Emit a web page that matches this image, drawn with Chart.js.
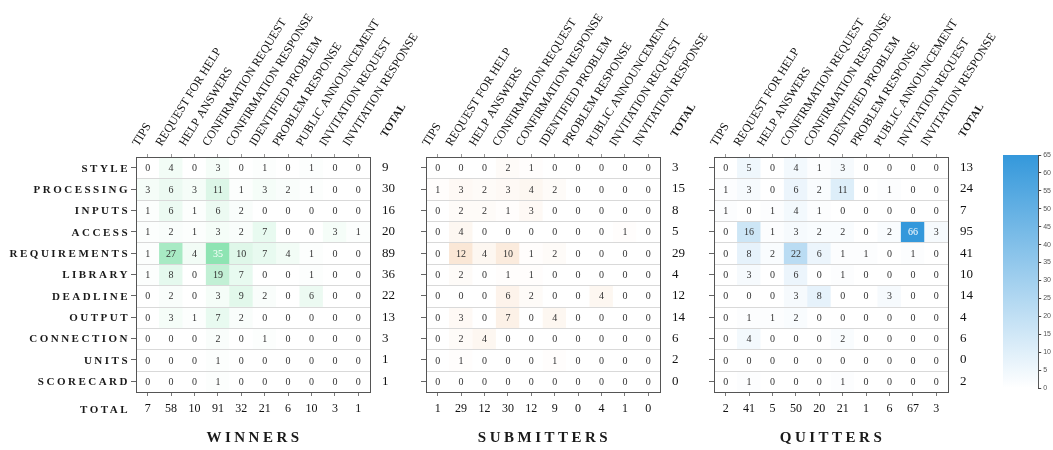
<!DOCTYPE html>
<html>
<head>
<meta charset="utf-8">
<script src="https://cdn.jsdelivr.net/npm/chart.js@4.4.0/dist/chart.umd.min.js"></script>
<style>
  html, body { margin: 0; padding: 0; background: #fff; }
  #wrap { position: relative; width: 1053px; height: 450px; overflow: hidden; }
  canvas { position: absolute; top: 0; }
</style>
</head>
<body>
<div id="wrap">
  <canvas id="winners" width="445" height="450" style="left:0px"></canvas>
  <canvas id="submitters" width="340" height="450" style="left:395px"></canvas>
  <canvas id="quitters" width="363" height="450" style="left:690px"></canvas>
  <canvas id="colorbar" width="58" height="450" style="left:995px"></canvas>
</div>
<script>
const rowLabels = ['STYLE', 'PROCESSING', 'INPUTS', 'ACCESS', 'REQUIREMENTS', 'LIBRARY',
  'DEADLINE', 'OUTPUT', 'CONNECTION', 'UNITS', 'SCORECARD'];
const colLabels = ['TIPS', 'REQUEST FOR HELP', 'HELP ANSWERS', 'CONFIRMATION REQUEST',
  'CONFIRMATION RESPONSE', 'IDENTIFIED PROBLEM', 'PROBLEM RESPONSE', 'PUBLIC ANNOUNCEMENT',
  'INVITATION REQUEST', 'INVITATION RESPONSE'];

const winners = [
  [0, 4, 0, 3, 0, 1, 0, 1, 0, 0],
  [3, 6, 3, 11, 1, 3, 2, 1, 0, 0],
  [1, 6, 1, 6, 2, 0, 0, 0, 0, 0],
  [1, 2, 1, 3, 2, 7, 0, 0, 3, 1],
  [1, 27, 4, 35, 10, 7, 4, 1, 0, 0],
  [1, 8, 0, 19, 7, 0, 0, 1, 0, 0],
  [0, 2, 0, 3, 9, 2, 0, 6, 0, 0],
  [0, 3, 1, 7, 2, 0, 0, 0, 0, 0],
  [0, 0, 0, 2, 0, 1, 0, 0, 0, 0],
  [0, 0, 0, 1, 0, 0, 0, 0, 0, 0],
  [0, 0, 0, 1, 0, 0, 0, 0, 0, 0]
];
const winnersRowTotals = [9, 30, 16, 20, 89, 36, 22, 13, 3, 1, 1];
const winnersColTotals = [7, 58, 10, 91, 32, 21, 6, 10, 3, 1];

const submitters = [
  [0, 0, 0, 2, 1, 0, 0, 0, 0, 0],
  [1, 3, 2, 3, 4, 2, 0, 0, 0, 0],
  [0, 2, 2, 1, 3, 0, 0, 0, 0, 0],
  [0, 4, 0, 0, 0, 0, 0, 0, 1, 0],
  [0, 12, 4, 10, 1, 2, 0, 0, 0, 0],
  [0, 2, 0, 1, 1, 0, 0, 0, 0, 0],
  [0, 0, 0, 6, 2, 0, 0, 4, 0, 0],
  [0, 3, 0, 7, 0, 4, 0, 0, 0, 0],
  [0, 2, 4, 0, 0, 0, 0, 0, 0, 0],
  [0, 1, 0, 0, 0, 1, 0, 0, 0, 0],
  [0, 0, 0, 0, 0, 0, 0, 0, 0, 0]
];
const submittersRowTotals = [3, 15, 8, 5, 29, 4, 12, 14, 6, 2, 0];
const submittersColTotals = [1, 29, 12, 30, 12, 9, 0, 4, 1, 0];

const quitters = [
  [0, 5, 0, 4, 1, 3, 0, 0, 0, 0],
  [1, 3, 0, 6, 2, 11, 0, 1, 0, 0],
  [1, 0, 1, 4, 1, 0, 0, 0, 0, 0],
  [0, 16, 1, 3, 2, 2, 0, 2, 66, 3],
  [0, 8, 2, 22, 6, 1, 1, 0, 1, 0],
  [0, 3, 0, 6, 0, 1, 0, 0, 0, 0],
  [0, 0, 0, 3, 8, 0, 0, 3, 0, 0],
  [0, 1, 1, 2, 0, 0, 0, 0, 0, 0],
  [0, 4, 0, 0, 0, 2, 0, 0, 0, 0],
  [0, 0, 0, 0, 0, 0, 0, 0, 0, 0],
  [0, 1, 0, 0, 0, 1, 0, 0, 0, 0]
];
const quittersRowTotals = [13, 24, 7, 95, 41, 10, 14, 4, 6, 0, 2];
const quittersColTotals = [2, 41, 5, 50, 20, 21, 1, 6, 67, 3];

const colorbarRange = [0, 65];
const colorMax = 65;

const serif = '"Liberation Serif", "Times New Roman", serif';
const headerAngle = 58;

function shade(hex, v) {
  const t = Math.min(1, v / colorMax);
  const n = parseInt(hex.slice(1), 16);
  const r = (n >> 16) & 255, g = (n >> 8) & 255, b = n & 255;
  const m = c => Math.round(255 + (c - 255) * t);
  return `rgb(${m(r)},${m(g)},${m(b)})`;
}

const heatPlugin = {
  id: 'heat',
  afterDatasetsDraw(chart) {
    const ctx = chart.ctx, a = chart.chartArea, ys = chart.scales.y;
    ctx.save();
    // row separators
    ctx.strokeStyle = '#d9d9d9';
    ctx.lineWidth = 1;
    for (let i = 1; i < rowLabels.length; i++) {
      const y = Math.round(ys.getPixelForValue(i)) + 0.5;
      ctx.beginPath(); ctx.moveTo(a.left, y); ctx.lineTo(a.right, y); ctx.stroke();
    }
    // cell values
    ctx.font = '10px ' + serif;
    ctx.textAlign = 'center';
    ctx.textBaseline = 'middle';
    chart.data.datasets.forEach((ds, i) => {
      chart.getDatasetMeta(i).data.forEach((bar, j) => {
        const v = ds.values[j];
        ctx.fillStyle = v > 30 ? '#fff' : '#333';
        ctx.fillText(String(v), bar.x, (bar.y + bar.base) / 2 + 1);
      });
    });
    // frame
    ctx.strokeStyle = '#555';
    ctx.strokeRect(Math.round(a.left) + 0.5, Math.round(a.top) + 0.5,
      Math.round(a.right - a.left), Math.round(a.bottom - a.top));
    ctx.restore();
  },
  afterDraw(chart, args, opts) {
    const ctx = chart.ctx, a = chart.chartArea, ys = chart.scales.y;
    ctx.save();
    ctx.fillStyle = '#1a1a1a';
    // row labels + bottom TOTAL
    if (opts.rowLabels) {
      ctx.font = 'bold 11px ' + serif;
      ctx.letterSpacing = '2.5px';
      ctx.textAlign = 'right';
      ctx.textBaseline = 'middle';
      rowLabels.forEach((lab, i) => {
        ctx.fillText(lab, a.left - 6, ys.getPixelForValue(i + 0.5) + 1);
      });
      ctx.fillText('TOTAL', a.left - 6, a.bottom + 18);
    }
    // rotated TOTAL header
    ctx.save();
    ctx.letterSpacing = '0px';
    ctx.translate(a.right + 16, a.top - 19);
    ctx.rotate(-headerAngle * Math.PI / 180);
    ctx.font = 'bold 11px ' + serif;
    ctx.textAlign = 'left';
    ctx.textBaseline = 'alphabetic';
    ctx.fillText('TOTAL', 0, 0);
    ctx.restore();
    // panel title
    ctx.font = 'bold 15px ' + serif;
    ctx.letterSpacing = '3.5px';
    ctx.textAlign = 'center';
    ctx.textBaseline = 'middle';
    ctx.fillText(opts.title, (a.left + a.right) / 2 + 1.5, 438);
    ctx.restore();
  }
};

function makeHeatmap(id, matrix, rowTotals, colTotals, hue, title, showRowLabels, leftW, rightW) {
  const datasets = matrix.map((row, i) => ({
    label: rowLabels[i],
    data: row.map(() => [i, i + 1]),
    values: row,
    backgroundColor: row.map(v => shade(hue, v)),
    borderWidth: 0,
    grouped: false,
    barPercentage: 1,
    categoryPercentage: 1,
    xAxisID: 'x',
    yAxisID: 'y'
  }));
  const rowTicks = axis => { axis.ticks = rowLabels.map((_, i) => ({ value: i + 0.5 })); };
  const noPadX = s => { s.paddingLeft = 0; s.paddingRight = 0; };
  const noPadY = s => { s.paddingTop = 0; s.paddingBottom = 0; };
  new Chart(document.getElementById(id), {
    type: 'bar',
    data: { labels: colLabels, datasets },
    options: {
      responsive: false,
      animation: false,
      events: [],
      layout: { padding: 0 },
      plugins: {
        legend: { display: false },
        tooltip: { enabled: false },
        heat: { title, rowLabels: showRowLabels }
      },
      scales: {
        x: {
          type: 'category',
          position: 'top',
          offset: true,
          grid: { offset: false, drawOnChartArea: false, tickLength: 3, color: '#999' },
          border: { display: false },
          ticks: {
            autoSkip: false, minRotation: headerAngle, maxRotation: headerAngle, padding: 5,
            color: '#111', font: { family: serif, size: 12 }
          },
          afterFit: s => { s.height = 157; noPadX(s); }
        },
        x2: {
          type: 'category',
          position: 'bottom',
          labels: colTotals.map(String),
          offset: true,
          grid: { offset: false, drawOnChartArea: false, tickLength: 4, color: '#777' },
          border: { display: false },
          ticks: {
            autoSkip: false, maxRotation: 0, padding: 6,
            color: '#111', font: { family: serif, size: 12 }
          },
          afterFit: s => { s.height = 58; noPadX(s); }
        },
        y: {
          type: 'linear',
          position: 'left',
          min: 0, max: rowLabels.length, reverse: true,
          afterBuildTicks: rowTicks,
          grid: { drawOnChartArea: false, tickLength: 5, color: '#666' },
          border: { display: false },
          ticks: { display: false },
          afterFit: s => { s.width = leftW; noPadY(s); }
        },
        yr: {
          type: 'linear',
          position: 'right',
          min: 0, max: rowLabels.length, reverse: true,
          afterBuildTicks: rowTicks,
          grid: { display: false, drawTicks: false },
          border: { display: false },
          ticks: {
            padding: 12, color: '#111', font: { family: serif, size: 13 },
            callback: (v, i) => String(rowTotals[i])
          },
          afterFit: s => { s.width = rightW; noPadY(s); }
        }
      }
    },
    plugins: [heatPlugin]
  });
}

makeHeatmap('winners', winners, winnersRowTotals, winnersColTotals, '#2ecc71', 'WINNERS', true, 136, 75);
makeHeatmap('submitters', submitters, submittersRowTotals, submittersColTotals, '#e67e22', 'SUBMITTERS', false, 31, 75);
makeHeatmap('quitters', quitters, quittersRowTotals, quittersColTotals, '#3498db', 'QUITTERS', false, 24, 105);

new Chart(document.getElementById('colorbar'), {
  type: 'bar',
  data: {
    labels: [''],
    datasets: [{
      data: [colorbarRange],
      borderWidth: 0,
      barPercentage: 1,
      categoryPercentage: 1,
      backgroundColor: c => {
        const a = c.chart.chartArea;
        if (!a) return '#3498db';
        const g = c.chart.ctx.createLinearGradient(0, a.bottom, 0, a.top);
        g.addColorStop(0, '#ffffff');
        g.addColorStop(1, '#3498db');
        return g;
      }
    }]
  },
  options: {
    responsive: false,
    animation: false,
    events: [],
    layout: { padding: { left: 8, top: 155, bottom: 62, right: 0 } },
    plugins: { legend: { display: false }, tooltip: { enabled: false } },
    scales: {
      x: { display: false },
      y: {
        position: 'right',
        min: colorbarRange[0], max: colorbarRange[1],
        grid: { drawOnChartArea: false, tickLength: 3, color: '#444' },
        border: { display: true, color: '#444' },
        ticks: { stepSize: 5, padding: 2, color: '#555', font: { family: 'Arial, "Liberation Sans", sans-serif', size: 7 } }
      }
    }
  }
});
</script>
</body>
</html>
